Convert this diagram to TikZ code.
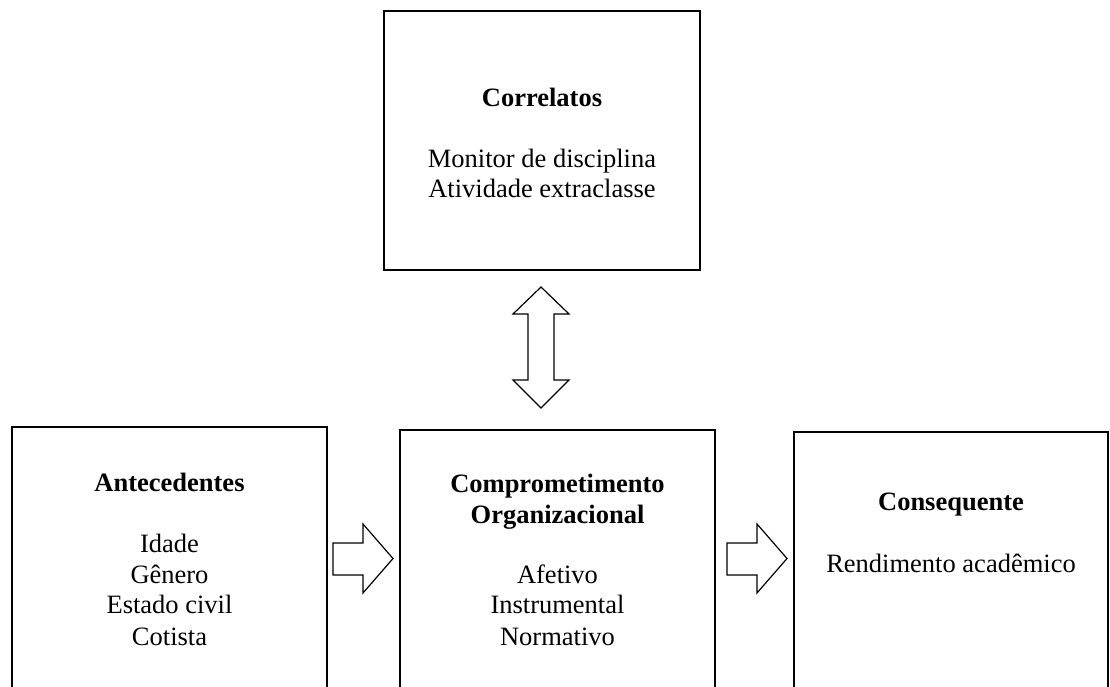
\documentclass[tikz,border=0pt]{standalone}
\usepackage{fontspec}
\setmainfont{Liberation Serif}
\begin{document}
\begin{tikzpicture}[x=1pt,y=-1pt,
  box/.style={draw=black,line width=1.2pt,fill=white,inner sep=0pt,outer sep=0pt},
  txt/.style={anchor=base,inner sep=0pt,font=\fontsize{26.5}{30}\selectfont},
  ttl/.style={txt,font=\fontsize{26.5}{30}\selectfont\bfseries},
  blockarrow/.style={draw=black,line width=1.2pt,fill=white,line join=miter}]
\useasboundingbox (0,0) rectangle (1110,686);
\clip (0,0) rectangle (1110,686);
% boxes
\node[box,minimum width=316pt,minimum height=259pt] (cor) at (542,140.5) {};
\node[box,minimum width=315pt,minimum height=340pt] (ant) at (169.5,597) {};
\node[box,minimum width=315pt,minimum height=340pt] (com) at (557.5,600) {};
\node[box,minimum width=314pt,minimum height=340pt] (con) at (951,602) {};
% texts
\node[ttl] (t1) at (542,106) {Correlatos};
\node[txt] (t1a) at (542,167) {Monitor de disciplina};
\node[txt] (t1b) at (542,197) {Atividade extraclasse};
\node[ttl] (t2) at (169.5,491) {Antecedentes};
\node[txt] (t2a) at (169.5,552) {Idade};
\node[txt] (t2b) at (169.5,583) {Gênero};
\node[txt] (t2c) at (169.5,613) {Estado civil};
\node[txt] (t2d) at (169.5,645) {Cotista};
\node[ttl] (t3) at (557.5,492) {Comprometimento};
\node[ttl] (t3b) at (557.5,523) {Organizacional};
\node[txt] (t3c) at (557.5,583) {Afetivo};
\node[txt] (t3d) at (557.5,613) {Instrumental};
\node[txt] (t3e) at (557.5,645) {Normativo};
\node[ttl] (t4) at (951,510) {Consequente};
\node[txt] (t4a) at (951,572) {Rendimento acadêmico};
% double vertical block arrow between cor and com
\draw[blockarrow] (541,287) -- (569,314) -- (554,314) -- (554,380) -- (569,380)
  -- (541,408) -- (513,380) -- (528,380) -- (528,314) -- (513,314) -- cycle;
% right block arrows
\draw[blockarrow] (333,543) -- (363,543) -- (363,524) -- (393,558.5) -- (363,593)
  -- (363,575) -- (333,575) -- cycle;
\draw[blockarrow] (727,543) -- (757,543) -- (757,524) -- (787,558.5) -- (757,593)
  -- (757,575) -- (727,575) -- cycle;
\end{tikzpicture}
\end{document}
